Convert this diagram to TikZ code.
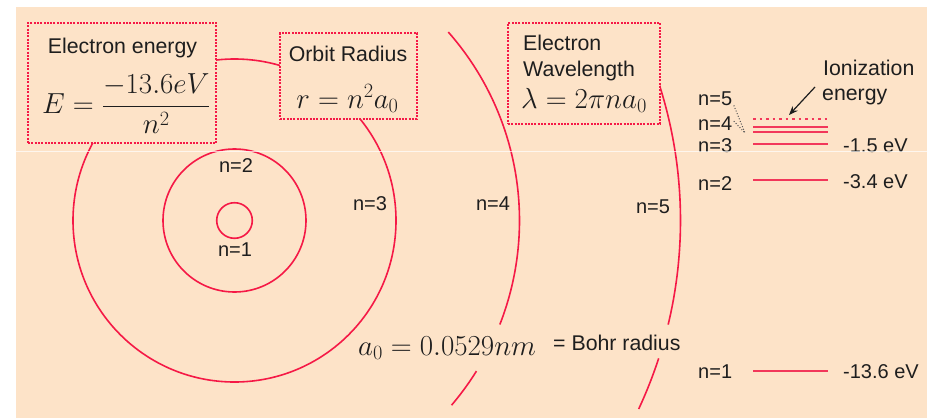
\RequirePackage{fix-cm}
\documentclass[tikz,border=0pt]{standalone}
\usepackage{fontspec}
\newfontfamily\lsans{Liberation Sans}
\usetikzlibrary{arrows.meta}
\definecolor{bg}{RGB}{253,227,200}
\definecolor{orb}{RGB}{245,25,70}
\definecolor{lvl}{RGB}{242,55,90}
\definecolor{ink}{RGB}{30,30,30}
\begin{document}
\begin{tikzpicture}[x=1pt,y=-1pt,
  lab/.style={font=\lsans\fontsize{20}{24}\selectfont, text=ink, inner sep=0pt},
  ttl/.style={font=\lsans\fontsize{21.3}{25}\selectfont, text=ink, inner sep=0pt},
  fml/.style={font=\fontsize{29}{34}\selectfont, text=ink, inner sep=0pt},
  infobox/.style={draw=orb, fill=bg, line width=2.8pt, dash pattern=on 2pt off 1.3pt, inner sep=0pt},
  orbit/.style={draw=orb, line width=1.6pt},
  level/.style={draw=lvl, line width=2.2pt},
  guide/.style={draw=ink!75, line width=1pt, dash pattern=on 1pt off 1.8pt}]
\useasboundingbox (0,0) rectangle (927,418);
\fill[bg] (16,7) rectangle (927,418);
% orbits
\coordinate (c) at (234.5,220.5);
\draw[orbit] (c) circle[radius=17.8pt];
\draw[orbit] (c) circle[radius=71.5pt];
\draw[orbit] (c) circle[radius=161.5pt];
\draw[orbit] plot[domain=-41.4:21.4, samples=90] ({234.5+285*cos(\x)},{220.5+285*sin(\x)});
\draw[orbit] plot[domain=31.9:40.4, samples=20] ({234.5+285*cos(\x)},{220.5+285*sin(\x)});
\draw[orbit] plot[domain=-22:13.5, samples=90] ({234.5+446*cos(\x)},{220.5+446*sin(\x)});
\draw[orbit] plot[domain=18:25, samples=20] ({234.5+446*cos(\x)},{220.5+446*sin(\x)});
% boxes
\node[infobox, minimum width=188pt, minimum height=120pt] (ebox) at (122,83) {};
\node[ttl, anchor=base] (etitle) at (122.5,53) {Electron energy};
\node[fml, anchor=base west] (eform) at (42,113.5) {$E=\displaystyle\frac{-13.6eV}{n^2}$};
\node[infobox, minimum width=137pt, minimum height=86pt] (rbox) at (348.5,76) {};
\node[ttl, anchor=base] (rtitle) at (348,61) {Orbit Radius};
\node[fml, anchor=base] (rform) at (347.5,108) {$r=n^2a_0$};
\node[infobox, minimum width=152pt, minimum height=101pt] (wbox) at (584,73.5) {};
\node[ttl, anchor=base west] (wt1) at (523,50) {Electron};
\node[ttl, anchor=base west] (wt2) at (523,76) {Wavelength};
\node[fml, anchor=base west] (wform) at (521,108) {$\lambda=2\pi na_0$};
% orbit labels
\node[lab] (o1) at (235,250) {n=1};
\node[lab] (o2) at (236,166) {n=2};
\node[lab] (o3) at (370,204) {n=3};
\node[lab] (o4) at (493,204) {n=4};
\node[lab] (o5) at (653,207) {n=5};
% Bohr radius
\node[fml, anchor=base west] (bohr) at (358,355) {$a_0=0.0529nm$};
\node[ttl, anchor=base west] (bohrtxt) at (553,350) {= Bohr radius};
% energy levels
\foreach \nm/\yy in {l5/127.3, l4/132, l3/144.3, l2/180, l1/371}{
  \coordinate (\nm a) at (753,\yy);
  \coordinate (\nm b) at (828,\yy);
  \draw[level] (\nm a) -- (\nm b);
}
\coordinate (l0a) at (753,118.7);
\coordinate (l0b) at (828,118.7);
\draw[draw=lvl, line width=1.6pt, dash pattern=on 2.7pt off 3.8pt] (l0a) -- (l0b);
\node[lab, anchor=base west] (e5) at (698,105) {n=5};
\node[lab, anchor=base west] (e4) at (698,130) {n=4};
\node[lab, anchor=base west] (e3) at (698,152) {n=3};
\node[lab, anchor=base west] (e2) at (698,190) {n=2};
\node[lab, anchor=base west] (e1) at (698,378) {n=1};
\coordinate (g) at (745,133);
\draw[guide] ([xshift=1.5pt]e5.south east) -- (g);
\draw[guide] ([xshift=1.5pt,yshift=2pt]e4.east) -- (g);
\node[lab, anchor=base west] (v3) at (843,152) {-1.5 eV};
\node[lab, anchor=base west] (v2) at (843,188) {-3.4 eV};
\node[lab, anchor=base west] (v1) at (843,378) {-13.6 eV};
\node[ttl, anchor=base west] (ion1) at (823,75) {Ionization};
\node[ttl, anchor=base west] (ion2) at (822,100) {energy};
\coordinate (arrs) at (815,87);
\coordinate (arre) at (789,115);
\draw[-{Stealth[length=9pt,width=7pt]}, line width=1.2pt, ink] (arrs) -- (arre);
% faint scan line
\draw[white, opacity=0.7, line width=0.7pt] (16,151) -- (927,151);
\end{tikzpicture}
\end{document}
